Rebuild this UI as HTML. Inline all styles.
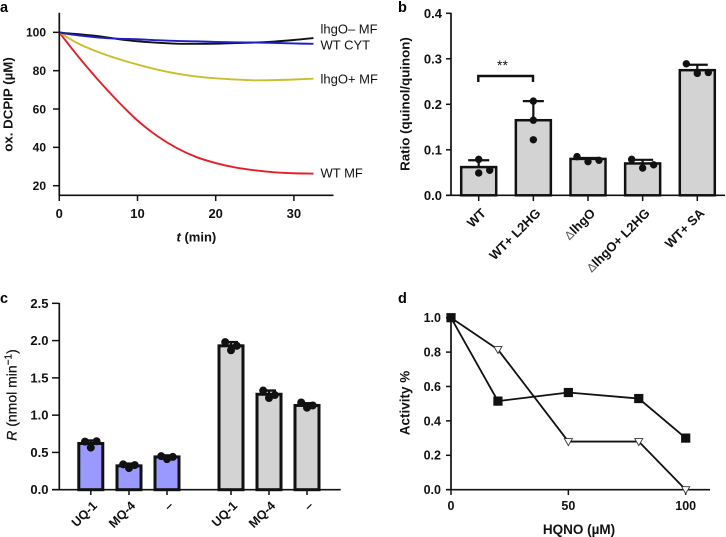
<!DOCTYPE html>
<html>
<head>
<meta charset="utf-8">
<title>Four panel figure</title>
<style>
html,body{margin:0;padding:0;background:#fff;}
svg{display:block;font-family:"Liberation Sans",sans-serif;}
</style>
</head>
<body>
<svg id="fig" width="726" height="537" viewBox="0 0 726 537" xmlns="http://www.w3.org/2000/svg"></svg>
<script>
// Panel a
const timeA = [0,1,2.5,5,7.5,10,12.5,15,17.5,20,22.5,25,27.5,30,32.5];
const lhgoMinus = [100,99.5,99,98,96.5,95.3,94.6,94.1,94,94.1,94.4,94.7,95.2,96,97];
const wtCyt = [100,99.2,98.4,97.3,96.7,96.4,95.9,95.5,95.3,95,94.8,94.7,94.5,94.2,94];
const lhgoPlus = [100,97.5,94,89.7,86.2,83.2,80.6,78.5,77,76,75.4,75,75.1,75.4,75.8];
const wtMf = [100,94.7,87,75,64,54,46,39.7,35,31.8,29.5,28,27,26.5,26.3];
const ticksAx = [0,10,20,30];
const ticksAy = [20,40,60,80,100];
// Panel b
const catsB = ["WT","WT+ L2HG","lhgO","lhgO+ L2HG","WT+ SA"];
const deltaB = [false,false,true,true,false];
const meansB = [0.062,0.165,0.08,0.07,0.275];
const capsB = [0.077,0.207,0.082,0.078,0.287];
const dotsB = [[0.079,0.049,0.055],[0.207,0.165,0.122],[0.085,0.074,0.077],[0.079,0.06,0.067],[0.289,0.268,0.27]];
const dotSideB = [[0,0,1],[0,0,0],[-1,0,1],[-1,0,1],[-1,0,1]];
const ticksBy = ["0.0","0.1","0.2","0.3","0.4"];
// Panel c
const catsC = ["UQ-1","MQ-4","\u2013","UQ-1","MQ-4","\u2013"];
const meansC = [0.62,0.32,0.44,1.93,1.28,1.13];
const capsC = [0.66,0.35,0.46,1.98,1.33,1.16];
const dotsC = [[0.645,0.565,0.65],[0.34,0.29,0.33],[0.45,0.41,0.44],[1.98,1.87,1.93],[1.33,1.23,1.27],[1.17,1.1,1.13]];
const ticksCy = ["0.0","0.5","1.0","1.5","2.0","2.5"];
// Panel d
const hqno = [0,20,50,80,100];
const activitySquares = [1,0.515,0.565,0.53,0.30];
const activityTriangles = [1,0.815,0.28,0.28,0];
const ticksDx = [0,50,100];
const ticksDy = ["0.0","0.2","0.4","0.6","0.8","1.0"];

const svg = document.getElementById('fig');
const NS = 'http://www.w3.org/2000/svg';
function mk(tag, attrs, name, parent){
  const el = document.createElementNS(NS, tag);
  for (const k in attrs) el.setAttribute(k, attrs[k]);
  
  
  (parent || svg).appendChild(el);
  return el;
}
function line(x1,y1,x2,y2,w,name,p){ return mk('line',{x1,y1,x2,y2,stroke:'#111',['stroke-width']:w},name,p); }
function txt(s,x,y,o,name,p){
  const a = Object.assign({x,y,fill:'#111','font-size':12,'font-weight':'bold'},o||{});
  const t = mk('text',a,name,p); t.textContent = s; return t;
}
function smooth(pts){
  let d = 'M'+pts[0][0]+' '+pts[0][1];
  for(let i=0;i<pts.length-1;i++){
    const p0=pts[i-1]||pts[i],p1=pts[i],p2=pts[i+1],p3=pts[i+2]||p2;
    d+=' C'+(p1[0]+(p2[0]-p0[0])/6)+' '+(p1[1]+(p2[1]-p0[1])/6)+' '+(p2[0]-(p3[0]-p1[0])/6)+' '+(p2[1]-(p3[1]-p1[1])/6)+' '+p2[0]+' '+p2[1];
  }
  return d;
}
function panelLabel(s,x,y){ txt(s,x,y,{'font-size':14.5,fill:'#000'},'panel-label-'+s); }

/* ---------- Panel a ---------- */
const ax = v => 59.3 + v*7.82;
const ay = v => 185.7 - (v-20)*1.917;
panelLabel('a',0,12);
const ga = mk('g',{},'panel-a');
[['curve-wt-mf',wtMf,'#e2202a'],['curve-lhgo-plus-mf',lhgoPlus,'#c9bf2e'],['curve-lhgo-minus-mf',lhgoMinus,'#111'],['curve-wt-cyt',wtCyt,'#1f1fc4']].forEach(s=>{
  mk('path',{d:smooth(timeA.map((t,i)=>[ax(t),ay(s[1][i])])),fill:'none',stroke:s[2],'stroke-width':1.9},s[0],ga);
});
line(59.3,12.7,59.3,196,1.7,'y-axis-a',ga);
line(58.5,195.3,333.5,195.3,1.7,'x-axis-a',ga);
ticksAy.forEach(v=>{
  line(53,ay(v),59.3,ay(v),1.5,'y-tick-a',ga);
  txt(String(v),46,ay(v)+4.3,{'text-anchor':'end'},'y-tick-label-a',ga);
});
ticksAx.forEach(v=>{
  line(ax(v),195.3,ax(v),201,1.5,'x-tick-a',ga);
  txt(String(v),ax(v),218,{'text-anchor':'middle','font-size':13},'x-tick-label-a',ga);
});
txt('ox. DCPIP (\u00b5M)',0,0,{transform:'translate(12.5,104.5) rotate(-90)','text-anchor':'middle','font-size':13.3},'y-axis-title-a',ga);
const tt = txt('',176.5,241.5,{'font-size':13},'x-axis-title-a',ga);
tt.innerHTML = '<tspan font-style="italic">t</tspan> (min)';
[['lhgO\u2013 MF',33.5],['WT CYT',49.5],['lhgO+ MF',83.5],['WT MF',177.5]].forEach(l=>{
  txt(l[0],320.5,l[1],{'font-weight':'normal','font-size':13},'series-label',ga);
});

/* ---------- Panel b ---------- */
const bx = i => 478.7 + i*54.65;
const by = v => 195.3 - v*455;
panelLabel('b',398,12);
const gb = mk('g',{},'panel-b');
catsB.forEach((c,i)=>{
  mk('rect',{x:bx(i)-17.5,y:by(meansB[i]),width:35,height:by(0)-by(meansB[i]),fill:'#d3d3d3',stroke:'#111','stroke-width':2.5},'bar-b-'+i,gb);
  line(bx(i),by(meansB[i]),bx(i),by(capsB[i]),2.2,'error-bar-b',gb);
  line(bx(i)-10.5,by(capsB[i]),bx(i)+10.5,by(capsB[i]),2.2,'error-cap-b',gb);
  dotsB[i].forEach((d,j)=>mk('circle',{cx:bx(i)+dotSideB[i][j]*11,cy:by(d),r:3.7,fill:'#111'},'dot-b',gb));
  line(bx(i),195.3,bx(i),201,1.5,'x-tick-b',gb);
  const lx = bx(i)+8;
  const lab = txt('',lx,214,{transform:'rotate(-45 '+lx+' 214)','text-anchor':'end','font-size':13},'x-tick-label-b',gb);
  lab.innerHTML = (deltaB[i] ? '<tspan font-weight="normal" fill="#555" font-size="12">\u0394</tspan>' : '') + c;
});
line(451,12.7,451,196,1.7,'y-axis-b',gb);
line(446,195.3,725,195.3,1.7,'x-axis-b',gb);
ticksBy.forEach(s=>{
  const v=parseFloat(s);
  line(446,by(v),451,by(v),1.5,'y-tick-b',gb);
  txt(s,442,by(v)+4.5,{'text-anchor':'end','font-size':13},'y-tick-label-b',gb);
});
txt('Ratio (quinol/quinon)',0,0,{transform:'translate(409.5,104) rotate(-90)','text-anchor':'middle','font-size':13.3},'y-axis-title-b',gb);
mk('path',{d:'M478.3 82V76H533V82',fill:'none',stroke:'#111','stroke-width':2.4},'significance-bracket',gb);
txt('**',497,70,{'font-weight':'normal','font-size':14},'significance-stars',gb);

/* ---------- Panel c ---------- */
const cxPos = [90.8,129,167,231,269,307];
const cy = v => 489.7 - v*74.55;
panelLabel('c',0,303);
const gc = mk('g',{},'panel-c');
catsC.forEach((c,i)=>{
  const x=cxPos[i];
  mk('rect',{x:x-12,y:cy(meansC[i]),width:24,height:cy(0)-cy(meansC[i]),fill:i<3?'#9999ff':'#d3d3d3',stroke:'#111','stroke-width':3},'bar-c-'+i,gc);
  line(x,cy(meansC[i]),x,cy(capsC[i]),2.4,'error-bar-c',gc);
  line(x-7,cy(capsC[i]),x+7,cy(capsC[i]),2.4,'error-cap-c',gc);
  [-1,0,1].forEach((s,j)=>mk('circle',{cx:x+s*5.8,cy:cy(dotsC[i][j]),r:4,fill:'#111'},'dot-c',gc));
  line(x,489.7,x,495,1.5,'x-tick-c',gc);
  txt(c,x+7,506.5,{transform:'rotate(-45 '+(x+7)+' 506.5)','text-anchor':'end','font-size':12.5},'x-tick-label-c',gc);
});
line(59.3,303,59.3,490.5,1.7,'y-axis-c',gc);
line(52,489.7,340.7,489.7,1.7,'x-axis-c',gc);
ticksCy.forEach(s=>{
  const v=parseFloat(s);
  line(52,cy(v),59.3,cy(v),1.5,'y-tick-c',gc);
  txt(s,48.5,cy(v)+4.5,{'text-anchor':'end','font-size':13},'y-tick-label-c',gc);
});
const tc = txt('',0,0,{transform:'translate(16.5,395) rotate(-90)','text-anchor':'middle','font-weight':'normal','font-size':14,stroke:'#111','stroke-width':0.25},'y-axis-title-c',gc);
tc.innerHTML = '<tspan font-style="italic">R</tspan> (nmol min<tspan font-size="10" dy="-5">\u22121</tspan><tspan dy="5">)</tspan>';

/* ---------- Panel d ---------- */
const dx = v => 451 + v*2.347;
const dy = v => 489.7 - v*172;
panelLabel('d',398,303);
const gd = mk('g',{},'panel-d');
line(451,317,451,490.5,1.7,'y-axis-d',gd);
line(446,489.7,710,489.7,1.7,'x-axis-d',gd);
ticksDy.forEach(s=>{
  const v=parseFloat(s);
  line(446,dy(v),451,dy(v),1.5,'y-tick-d',gd);
  txt(s,441,dy(v)+4.4,{'text-anchor':'end','font-size':12.5},'y-tick-label-d',gd);
});
ticksDx.forEach(v=>{
  line(dx(v),489.7,dx(v),495,1.5,'x-tick-d',gd);
  txt(String(v),dx(v),510,{'text-anchor':'middle','font-size':12.5},'x-tick-label-d',gd);
});
mk('polyline',{points:hqno.map((x,i)=>dx(x)+','+dy(activityTriangles[i])).join(' '),fill:'none',stroke:'#111','stroke-width':1.8},'line-triangles',gd);
mk('polyline',{points:hqno.map((x,i)=>dx(x)+','+dy(activitySquares[i])).join(' '),fill:'none',stroke:'#111','stroke-width':1.8},'line-squares',gd);
hqno.forEach((x,i)=>{
  const px=dx(x),py=dy(activityTriangles[i]);
  mk('polygon',{points:(px-4)+','+(py-3)+' '+(px+4)+','+(py-3)+' '+px+','+(py+4),fill:'#fff',stroke:'#333','stroke-width':0.9},'marker-triangle',gd);
});
hqno.forEach((x,i)=>{
  mk('rect',{x:dx(x)-4.6,y:dy(activitySquares[i])-4.6,width:9.2,height:9.2,fill:'#111'},'marker-square',gd);
});
txt('Activity %',0,0,{transform:'translate(409.5,403) rotate(-90)','text-anchor':'middle','font-size':13.5},'y-axis-title-d',gd);
txt('HQNO (\u00b5M)',579,534,{'text-anchor':'middle','font-size':13.5},'x-axis-title-d',gd);
</script>
</body>
</html>
